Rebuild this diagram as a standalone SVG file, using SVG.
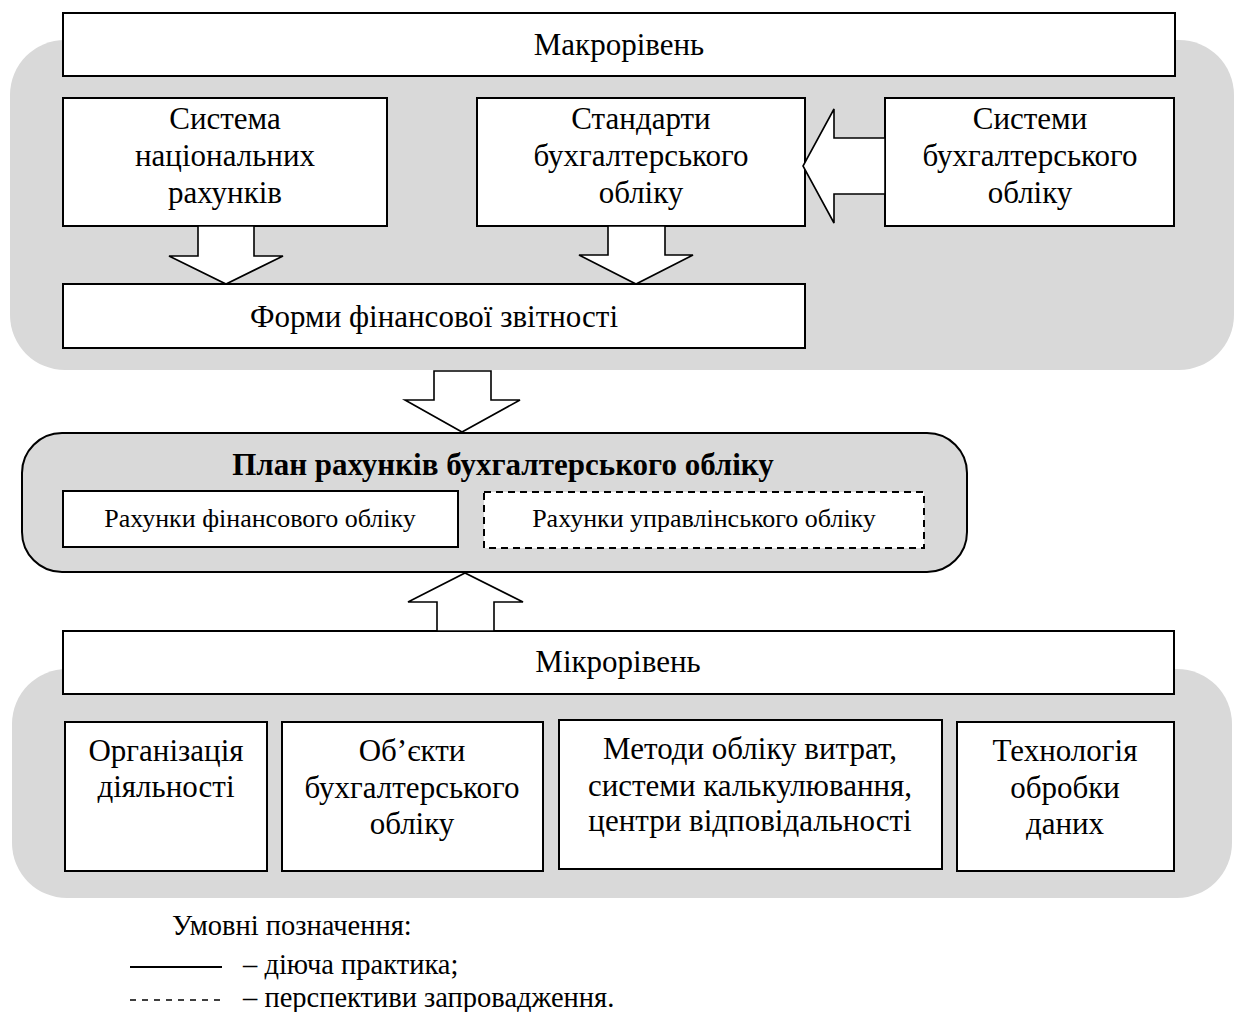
<svg xmlns="http://www.w3.org/2000/svg" width="1241" height="1012" viewBox="0 0 1241 1012">
<style>
.bg{fill:#d9d9d9;stroke:none}
.box{fill:#ffffff;stroke:#000;stroke-width:2}
.dash{fill:#ffffff;stroke:#000;stroke-width:2;stroke-dasharray:7,5}
.plan{fill:#d9d9d9;stroke:#000;stroke-width:2}
.arr{fill:#ffffff;stroke:#000;stroke-width:1.6;stroke-linejoin:miter}
text{font-family:"Liberation Serif","Times New Roman",serif;fill:#000}
.t{font-size:31px;text-anchor:middle}
.s{font-size:26px;text-anchor:middle}
.b{font-size:31px;font-weight:bold;text-anchor:middle}
.l{font-size:28.5px}
</style>
<rect class="bg" x="10" y="40" width="1224" height="330" rx="55" ry="55"/>
<rect class="bg" x="12" y="669" width="1220" height="229" rx="55" ry="55"/>

<g id="macro"><rect class="box" x="63" y="13" width="1112" height="63"/><text class="t" x="619" y="55">Макрорівень</text></g>
<g id="snr"><rect class="box" x="63" y="98" width="324" height="128"/><text class="t" x="225" y="129">Система</text><text class="t" x="225" y="166">національних</text><text class="t" x="225" y="203">рахунків</text></g>
<g id="standards"><rect class="box" x="477" y="98" width="328" height="128"/><text class="t" x="641" y="129">Стандарти</text><text class="t" x="641" y="166">бухгалтерського</text><text class="t" x="641" y="203">обліку</text></g>
<g id="systems"><rect class="box" x="885" y="98" width="289" height="128"/><text class="t" x="1030" y="129">Системи</text><text class="t" x="1030" y="166">бухгалтерського</text><text class="t" x="1030" y="203">обліку</text></g>
<g id="forms"><rect class="box" x="63" y="284" width="742" height="64"/><text class="t" x="434" y="327">Форми фінансової звітності</text></g>

<g id="plan"><rect class="plan" x="22" y="433" width="945" height="139" rx="40" ry="40"/><text class="b" x="503" y="475">План рахунків бухгалтерського обліку</text></g>
<g id="fin"><rect class="box" x="63" y="491" width="395" height="56"/><text class="s" x="260" y="527">Рахунки фінансового обліку</text></g>
<g id="mgmt"><rect class="dash" x="484" y="492" width="440" height="56"/><text class="s" x="704" y="527">Рахунки управлінського обліку</text></g>

<g id="micro"><rect class="box" x="63" y="631" width="1111" height="63"/><text class="t" x="618" y="672">Мікрорівень</text></g>
<g id="org"><rect class="box" x="65" y="722" width="202" height="149"/><text class="t" x="166" y="761">Організація</text><text class="t" x="166" y="797">діяльності</text></g>
<g id="objects"><rect class="box" x="282" y="722" width="261" height="149"/><text class="t" x="412" y="761">Об’єкти</text><text class="t" x="412" y="798">бухгалтерського</text><text class="t" x="412" y="834">обліку</text></g>
<g id="methods"><rect class="box" x="559" y="720" width="383" height="149"/><text class="t" x="750" y="759">Методи обліку витрат,</text><text class="t" x="750" y="796">системи калькулювання,</text><text class="t" x="750" y="831">центри відповідальності</text></g>
<g id="tech"><rect class="box" x="957" y="722" width="217" height="149"/><text class="t" x="1065" y="761">Технологія</text><text class="t" x="1065" y="798">обробки</text><text class="t" x="1065" y="834">даних</text></g>

<g id="connectors">
<polygon class="arr" points="198,226 254,226 254,256 283,256 226,284 169,256 198,256"/>
<polygon class="arr" points="608,226 665,226 665,255 693,255 636,284 579,255 608,255"/>
<polygon class="arr" points="885,138 834,138 834,109 803,166 834,223 834,194 885,194"/>
<polygon class="arr" points="434,371 491,371 491,400 520,400 462,432 405,400 434,400"/>
<polygon class="arr" points="437,631 437,602 408,602 465,573 523,602 494,602 494,631"/>
</g>

<g id="legend">
<text class="l" x="172" y="935">Умовні позначення:</text>
<line x1="130" y1="967" x2="222" y2="967" stroke="#000" stroke-width="2"/>
<text class="l" x="243" y="974">– діюча практика;</text>
<line x1="130" y1="1000" x2="222" y2="1000" stroke="#000" stroke-width="1.5" stroke-dasharray="6,6"/>
<text class="l" x="243" y="1007">– перспективи запровадження.</text>
</g>
</svg>
